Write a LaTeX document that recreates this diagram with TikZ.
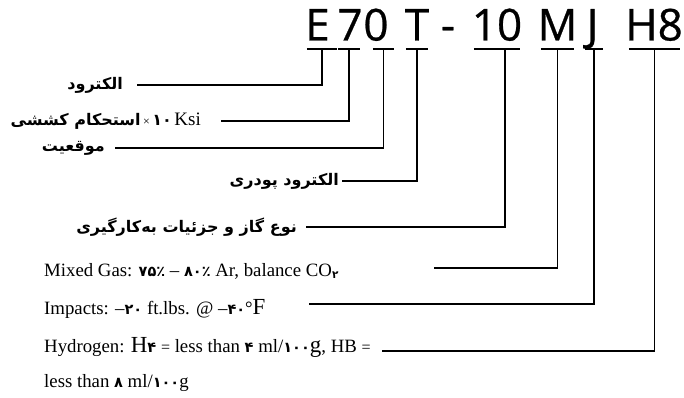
\documentclass[tikz,border=0pt]{standalone}
\usepackage{fontspec}
\setmainfont{Liberation Serif}
\newfontfamily\fa[Script=Arabic]{DejaVu Sans}
\newfontfamily\codefont[FakeBold=0.6]{Open Sans}
\TeXXeTstate=1
\usetikzlibrary{positioning}
\newcommand\fab{\fontsize{16}{16}\selectfont\fa\bfseries}
\newcommand\fadig{\fontsize{14.5}{14.5}\selectfont\fa\bfseries}

\begin{document}
\begin{tikzpicture}[x=1pt,y=-1pt,
  glyph/.style={font=\fontsize{44}{44}\selectfont\codefont,inner sep=0pt,anchor=base},
  barnode/.style={minimum width=#1,minimum height=0pt,inner sep=0pt},
  falabel/.style={font=\fab,inner sep=0pt},
  row/.style={font=\fontsize{18.8}{18.8}\selectfont,inner sep=0pt,anchor=base west},
  bar/.style={line width=1.1pt},
  link/.style={line width=1.3pt}]
\useasboundingbox (0,0) rectangle (684,398);
% code letters and the bars under them
\foreach \n/\gx/\bx/\w/\g in %
{E/317.5/322/30/E,s/350/349/22/7,z/376/383.5/21/0,T/417/417/22/T,%
t/497/497/46/10,M/557.5/557.5/33/M,J/592.5/594/18/J,H/654/654.5/51/H8} {
   \node[glyph] (c\n) at (\gx,40.5) {\g};
   \node[barnode=\w] (b\n) at (\bx,49) {};
   \draw[bar] (b\n.west) -- (b\n.east);
}
\node[glyph] (cDash) at (448,40.5) {-};
% persian labels
\coordinate (sElec) at (137,85);
\node[falabel,left=14pt of sElec] (lElec) {\beginR الکترود\endR};
\draw[link] (sElec) -| (bE);
\coordinate (sKsi) at (221,121);
\node[inner sep=0pt,left=20pt of sKsi] (lKsi) {{\fab\beginR استحکام کششی\endR}
   {\fontsize{12}{12}\selectfont ×} {\fab ۱۰} {\fontsize{19}{19}\selectfont Ksi}};
\draw[link] (sKsi) -| (bs);
\coordinate (sPos) at (115,148);
\node[falabel,left=10pt of sPos] (lPos) {\beginR موقعیت\endR};
\draw[link] (sPos) -| (bz);
\coordinate (sFlux) at (342,181);
\node[falabel,left=3pt of sFlux] (lFlux) {\beginR الکترود پودری\endR};
\draw[link] (sFlux) -| (bT);
\coordinate (sGas) at (306,227);
\node[falabel,left=9pt of sGas] (lGas) {\beginR نوع گاز و جزئیات به‌کارگیری\endR};
\draw[link] (sGas) -| ([xshift=8pt]bt.center);
% latin rows
\node[row] (tMix) at (44,276) {Mixed Gas: {\fadig ۷۵٪} – {\fadig ۸۰٪} Ar, balance
   CO\raisebox{-0.3ex}{\fontsize{10.5}{10.5}\selectfont\fa\bfseries ۲}};
\coordinate (sMix) at (434,268);
\draw[link] (sMix) -| (bM);
\node[row] (tImp) at (44,314) {Impacts: –{\fadig ۲۰} ft.lbs. @ –{\fadig ۴۰}°{\fontsize{23}{23}\selectfont F}};
\coordinate (sImp) at (309,304);
\draw[link] (sImp) -| (bJ);
\node[row] (tHyd) at (44,352) {Hydrogen: {\fontsize{23}{23}\selectfont H}{\fadig ۴}
   {\fontsize{16}{16}\selectfont =} less than {\fadig ۴} ml/{\fadig ۱۰۰}{\fontsize{23}{23}\selectfont g},
   HB {\fontsize{16}{16}\selectfont =}};
\coordinate (sHyd) at (382,351);
\draw[link] (sHyd) -| (bH);
\node[row] (tLess) at (44,387) {less than {\fadig ۸} ml/{\fadig ۱۰۰}g};
\end{tikzpicture}
\end{document}
